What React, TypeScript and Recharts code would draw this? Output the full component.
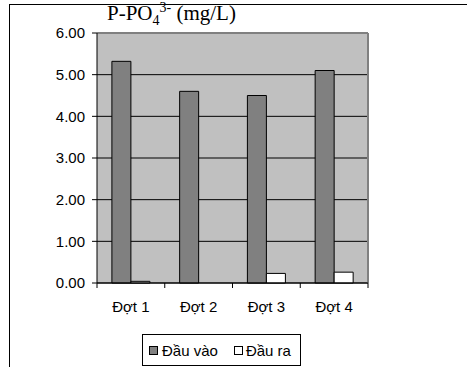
import { BarChart, Bar, XAxis, YAxis, CartesianGrid, Legend } from "recharts";

const categories = ["Đợt 1", "Đợt 2", "Đợt 3", "Đợt 4"];
const dauVao = [5.32, 4.6, 4.5, 5.1];
const dauRa = [0.04, 0, 0.23, 0.26];
const yTicks = [0, 1, 2, 3, 4, 5, 6];
const seriesOrder = ["dauVao", "dauRa"];

const data = categories.map((name, i) => ({
    name,
    dauVao: dauVao[i],
    dauRa: dauRa[i],
}));

const SANS = "'Liberation Sans', Arial, sans-serif";
const SERIF = "'Liberation Serif', 'Times New Roman', serif";
const X_MARGIN = 18;

// ticks sit on the category edges, labels in the middle
const XTick = ({ x, y, payload, index, visibleTicksCount, width }: any) => {
    const band = (width || 271) / (visibleTicksCount || 4);
    const axisY = y - X_MARGIN;
    return (
        <g>
            <line x1={x - band / 2} x2={x - band / 2} y1={axisY} y2={axisY + 5} stroke="#000" />
            {index === visibleTicksCount - 1 && (
                <line x1={x + band / 2} x2={x + band / 2} y1={axisY} y2={axisY + 5} stroke="#000" />
            )}
            <text x={x} y={y + 11} textAnchor="middle" fontSize={15} fill="#000" fontFamily={SANS}>
                {payload.value}
            </text>
        </g>
    );
};

const LegendBox = ({ payload }: any) => {
    const items = seriesOrder
        .map((k) => (payload || []).find((p: any) => p.dataKey === k))
        .filter(Boolean);
    return (
        <div
            style={{
                boxSizing: "border-box",
                width: 159,
                height: 32,
                border: "1px solid #000",
                display: "flex",
                alignItems: "center",
                paddingLeft: 6,
                fontFamily: SANS,
                fontSize: 15,
                color: "#000",
                background: "#fff",
                whiteSpace: "nowrap",
            }}
        >
            {items.map((entry: any, i: number) => (
                <div
                    key={`leg-${i}`}
                    style={{ display: "flex", alignItems: "center", flexShrink: 0, marginRight: i === 0 ? 16 : 0 }}
                >
                    <span
                        style={{
                            display: "inline-block",
                            boxSizing: "border-box",
                            width: 9,
                            height: 9,
                            border: "1px solid #000",
                            background: entry.color,
                            marginRight: i === 0 ? 4 : 3,
                        }}
                    />
                    <span>{entry.value}</span>
                </div>
            ))}
        </div>
    );
};

export default function App() {
    return (
        <div style={{ position: "relative", width: 467, height: 367, overflow: "hidden", background: "#fff" }}>
            <style>{`body{margin:0}`}</style>
            <div
                style={{
                    position: "absolute",
                    left: 9,
                    top: 4,
                    width: 458,
                    height: 363,
                    borderLeft: "1px solid #000",
                    borderTop: "1px solid #000",
                    boxSizing: "border-box",
                }}
            />
            <div
                style={{
                    position: "absolute",
                    left: 107,
                    top: 1,
                    fontFamily: SERIF,
                    fontSize: 21,
                    lineHeight: "24px",
                    color: "#000",
                    whiteSpace: "nowrap",
                    zIndex: 2,
                }}
            >
                P-PO<sub style={{ fontSize: 14, lineHeight: 0 }}>4</sub>
                <sup style={{ fontSize: 14, lineHeight: 0 }}>3-</sup> (mg/L)
            </div>
            <div style={{ position: "absolute", left: 0, top: 0 }}>
                <BarChart
                    width={467}
                    height={367}
                    data={data}
                    barGap={0}
                    barCategoryGap="22%"
                    margin={{ top: 33, right: 99, left: 37, bottom: 22 }}
                >
                    <CartesianGrid horizontal={false} vertical={false} fill="#C0C0C0" />
                    <CartesianGrid vertical={false} stroke="#000" />
                    <CartesianGrid
                        stroke="#808080"
                        strokeWidth={2}
                        horizontalCoordinatesGenerator={({ offset }: any) => [offset.top]}
                        verticalCoordinatesGenerator={({ offset }: any) => [offset.left + offset.width]}
                    />
                    <XAxis
                        dataKey="name"
                        height={30}
                        axisLine={{ stroke: "#000" }}
                        tickLine={false}
                        tickSize={0}
                        tickMargin={X_MARGIN}
                        tick={<XTick />}
                        interval={0}
                    />
                    <YAxis
                        width={60}
                        domain={[0, 6]}
                        ticks={yTicks}
                        interval={0}
                        axisLine={{ stroke: "#000" }}
                        tickLine={{ stroke: "#000" }}
                        tickSize={5}
                        tickMargin={7}
                        tickFormatter={(v: number) => v.toFixed(2)}
                        tick={{ fill: "#000", fontSize: 15, fontFamily: SANS }}
                    />
                    <Legend
                        verticalAlign="bottom"
                        content={<LegendBox />}
                        wrapperStyle={{ top: 334, left: 142, width: 159, height: 32 }}
                    />
                    <Bar
                        dataKey="dauVao"
                        name="Đầu vào"
                        fill="#808080"
                        stroke="#000"
                        strokeWidth={1}
                        isAnimationActive={false}
                    />
                    <Bar
                        dataKey="dauRa"
                        name="Đầu ra"
                        fill="#FFFFFF"
                        stroke="#000"
                        strokeWidth={1}
                        isAnimationActive={false}
                    />
                </BarChart>
            </div>
        </div>
    );
}
